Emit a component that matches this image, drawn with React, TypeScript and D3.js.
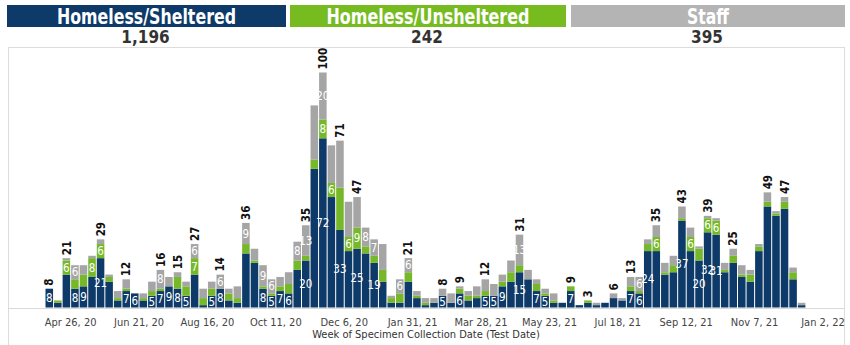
import React from 'react';
import * as d3 from 'd3';

// ---- data ----
const firstWeek = '2020-04-05';
const lastTickDate = '2022-01-02';

const sheltered = [
  8, 2, 14, 8, 9, 13, 21, 11, 3, 7,
  6, 3, 5, 7, 9, 8, 5, 14, 1, 5,
  8, 3, 2, 23, 19, 8, 5, 7, 6, 16,
  20, 59, 72, 47, 33, 24, 25, 23, 19, 11,
  2, 2, 11, 4, 1, 2, 5, 2, 6, 3,
  4, 5, 5, 9, 11, 15, 12, 7, 5, 2,
  2, 7, 1, 2, 1, 2, 4, 3, 7, 6,
  24, 24, 14, 15, 37, 24, 20, 32, 31, 15,
  19, 13, 11, 24, 43, 39, 42, 12, 1,
];
const unsheltered = [
  0, 1, 6, 4, 5, 8, 6, 2, 1, 1,
  0, 1, 2, 1, 0, 5, 4, 7, 3, 3,
  0, 3, 2, 4, 1, 1, 1, 2, 4, 4,
  2, 4, 8, 6, 18, 6, 9, 3, 3, 5,
  2, 4, 4, 1, 1, 0, 0, 0, 2, 2,
  1, 2, 0, 2, 4, 3, 0, 3, 1, 1,
  0, 2, 0, 1, 0, 0, 0, 0, 2, 1,
  3, 6, 1, 3, 1, 6, 5, 6, 6, 1,
  3, 1, 3, 2, 2, 1, 3, 3, 0,
];
const staff = [
  0, 0, 1, 6, 4, 1, 2, 1, 3, 4,
  0, 2, 4, 8, 4, 2, 2, 6, 4, 3,
  6, 2, 5, 9, 5, 9, 6, 4, 5, 8,
  13, 23, 20, 16, 20, 15, 13, 8, 7, 11,
  1, 6, 6, 2, 2, 2, 3, 4, 1, 2,
  4, 5, 5, 3, 5, 13, 4, 2, 2, 3,
  0, 0, 0, 0, 1, 0, 2, 1, 4, 6,
  2, 5, 4, 4, 5, 4, 1, 1, 1, 3,
  3, 4, 2, 1, 4, 1, 2, 2, 1,
];

// week numbers (1-based) whose labels are shown
const totalLabelWeeks = [1, 3, 7, 10, 14, 16, 18, 21, 24, 31, 33, 35, 37, 43, 47, 49, 52, 56, 62, 64, 67, 69, 72, 75, 78, 81, 85, 87];
const shelteredLabelWeeks = [1, 4, 5, 7, 10, 11, 13, 14, 15, 16, 17, 20, 21, 26, 27, 28, 29, 31, 33, 35, 37, 39, 47, 49, 52, 53, 54, 56, 58, 59, 62, 69, 70, 71, 75, 77, 78, 79];
const unshelteredLabelWeeks = [3, 6, 7, 18, 33, 34, 36, 37, 72, 76, 78, 79];
const staffLabelWeeks = [4, 14, 18, 21, 24, 26, 27, 30, 31, 33, 38, 39, 42, 43, 56, 70];

const tickDates = ['2020-04-26', '2020-06-21', '2020-08-16', '2020-10-11', '2020-12-06', '2021-01-31', '2021-03-28', '2021-05-23', '2021-07-18', '2021-09-12', '2021-11-07', '2022-01-02'];
const tickLabels = ['Apr 26, 20', 'Jun 21, 20', 'Aug 16, 20', 'Oct 11, 20', 'Dec 6, 20', 'Jan 31, 21', 'Mar 28, 21', 'May 23, 21', 'Jul 18, 21', 'Sep 12, 21', 'Nov 7, 21', 'Jan 2, 22'];

const headerTitles = ['Homeless/Sheltered', 'Homeless/Unsheltered', 'Staff'];
const headerTotals = ['1,196', '242', '395'];
const axisTitle = 'Week of Specimen Collection Date (Test Date)';

// ---- styles ----
const W = 850;
const H = 345;
const NAVY = '#0d3a68';
const GREEN = '#76b82a';
const GREY = '#a5a5a5';
const HEADER_FILLS = ['#0d3a68', '#76bc21', '#b4b4b4'];
const NARROW = "'Liberation Sans Narrow', 'DejaVu Sans Condensed', 'Open Sans', sans-serif";

export default function App() {
  const parse = d3.utcParse('%Y-%m-%d');
  const start = parse(firstWeek) as Date;
  const end = parse(lastTickDate) as Date;
  const weeks = sheltered.map((_, i) => d3.utcDay.offset(start, 7 * i));

  const x = d3.scaleUtc().domain([start, end]).range([45, 823]);
  const y = d3.scaleLinear().domain([0, 100]).range([307.5, 72.5]);

  const keys = ['sheltered', 'unsheltered', 'staff'];
  const table = weeks.map((d, i) => ({
    date: d,
    sheltered: sheltered[i],
    unsheltered: unsheltered[i],
    staff: staff[i],
  }));
  const series = d3.stack<any>().keys(keys)(table);
  const colors = [NAVY, GREEN, GREY];
  const labelSets = [shelteredLabelWeeks, unshelteredLabelWeeks, staffLabelWeeks];

  const headerBoxes = [
    { x0: 7, x1: 286, tl: 179 },
    { x0: 290, x1: 566, tl: 203 },
    { x0: 571, x1: 845, tl: 42 },
  ];

  const barX0 = (d: Date) => x(d);
  const barX1 = (d: Date) => x(d3.utcDay.offset(d, 7));

  return (
    <svg width={W} height={H} style={{ position: 'absolute', left: 0, top: 0, background: '#fff' }}>
      {/* header */}
      {headerBoxes.map((b, i) => (
        <g key={'h' + i}>
          <rect x={b.x0} y={5} width={b.x1 - b.x0} height={22} fill={HEADER_FILLS[i]} />
          <text
            x={(b.x0 + b.x1) / 2}
            y={23.5}
            textAnchor="middle"
            fill="#fff"
            fontFamily={NARROW}
            fontWeight="bold"
            fontSize={21}
            textLength={b.tl}
            lengthAdjust="spacingAndGlyphs"
          >
            {headerTitles[i]}
          </text>
          <text
            x={(b.x0 + b.x1) / 2 - 1}
            y={43}
            textAnchor="middle"
            fill="#333"
            fontFamily={NARROW}
            fontWeight="bold"
            fontSize={17}
          >
            {headerTotals[i]}
          </text>
        </g>
      ))}

      {/* frame */}
      <rect x={8.5} y={47.5} width={836} height={310} fill="none" stroke="#dcdcdc" strokeWidth={1} />

      {/* bars */}
      {series.map((s, si) => (
        <g key={'s' + si} fill={colors[si]}>
          {s.map((d: any, i: number) => {
            const x0 = barX0(weeks[i]);
            const x1 = barX1(weeks[i]);
            const h = y(d[0]) - y(d[1]);
            if (h <= 0) return null;
            return <rect key={i} x={x0 + 0.5} y={y(d[1])} width={x1 - x0 - 1} height={h} />;
          })}
        </g>
      ))}

      {/* segment labels */}
      {series.map((s, si) => (
        <g key={'l' + si} fill="#fff" fontFamily={NARROW} fontSize={11.5} textAnchor="middle">
          {s.map((d: any, i: number) => {
            if (!labelSets[si].includes(i + 1)) return null;
            const cx = (barX0(weeks[i]) + barX1(weeks[i])) / 2;
            const cy = (y(d[0]) + y(d[1])) / 2;
            return (
              <text key={i} x={cx} y={cy} dy="0.36em">
                {d[1] - d[0]}
              </text>
            );
          })}
        </g>
      ))}

      {/* total labels */}
      <g fill="#111" fontFamily={NARROW} fontSize={11.5} fontWeight="bold">
        {totalLabelWeeks.map((wk) => {
          const i = wk - 1;
          const total = sheltered[i] + unsheltered[i] + staff[i];
          const cx = (barX0(weeks[i]) + barX1(weeks[i])) / 2;
          const ty = y(total) - 3;
          return (
            <text key={wk} transform={`translate(${cx},${ty}) rotate(-90)`} dy="0.36em">
              {total}
            </text>
          );
        })}
      </g>

      {/* axis */}
      <line x1={8} x2={845} y1={308.5} y2={308.5} stroke="#d9d9d9" />
      <g fill="#444" fontFamily={NARROW} fontSize={11} textAnchor="middle">
        {tickDates.map((t, i) => (
          <text key={t} x={x(parse(t) as Date)} y={326}>
            {tickLabels[i]}
          </text>
        ))}
      </g>
      <text x={426} y={338} textAnchor="middle" fill="#333" fontFamily={NARROW} fontSize={11}>
        {axisTitle}
      </text>
    </svg>
  );
}
